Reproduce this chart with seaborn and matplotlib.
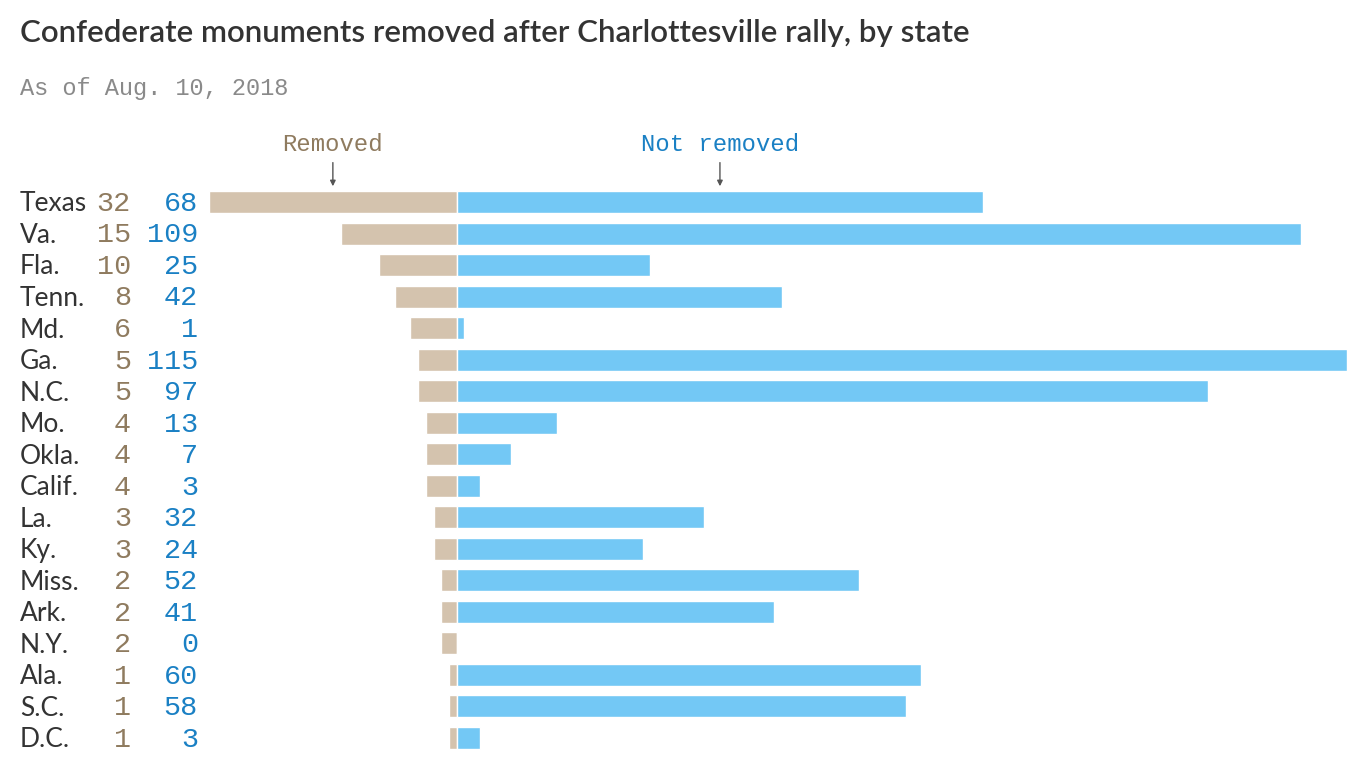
import matplotlib
matplotlib.use("Agg")
import matplotlib.pyplot as plt
import matplotlib.transforms as mtransforms
import pandas as pd
import seaborn as sns

# datos
estados = ["Texas", "Va.", "Fla.", "Tenn.", "Md.", "Ga.", "N.C.", "Mo.", "Okla.",
           "Calif.", "La.", "Ky.", "Miss.", "Ark.", "N.Y.", "Ala.", "S.C.", "D.C."]
removidos = [32, 15, 10, 8, 6, 5, 5, 4, 4, 4, 3, 3, 2, 2, 2, 1, 1, 1]
no_removidos = [68, 109, 25, 42, 1, 115, 97, 13, 7, 3, 32, 24, 52, 41, 0, 60, 58, 3]

titulo = "Confederate monuments removed after Charlottesville rally, by state"
subtitulo = "As of Aug. 10, 2018"

col_rem_bar = "#d4c3ae"
col_no_bar = "#73c8f5"
col_rem_txt = "#8f7b5f"
col_no_txt = "#1a80c4"
col_txt = "#333333"
mono = "Liberation Mono"

df = pd.DataFrame({"estado": estados, "removidos": removidos, "no_removidos": no_removidos})
df["rem_neg"] = -df["removidos"]

sns.set_style("white")
plt.rcParams["font.family"] = ["Lato", "DejaVu Sans"]

fig = plt.figure(figsize=(13.66, 7.68), dpi=100)
W, H = 1366, 768
ax = fig.add_axes([209 / W, 1 - 753.75 / H, (1347 - 209) / W, (753.75 - 186.25) / H])

sns.barplot(data=df, x="rem_neg", y="estado", color=col_rem_bar, width=0.7,
            orient="h", ax=ax, edgecolor="white", linewidth=1, saturation=1)
sns.barplot(data=df, x="no_removidos", y="estado", color=col_no_bar, width=0.7,
            orient="h", ax=ax, edgecolor="white", linewidth=1, saturation=1)

ax.set_xlim(-32, 115)
ax.set_ylim(len(estados) - 0.5, -0.5)
ax.axis("off")

trans = mtransforms.blended_transform_factory(fig.transFigure, ax.transData)
for i, row in df.iterrows():
    ax.text(20 / W, i + 0.06, row["estado"], transform=trans, ha="left", va="center",
            fontsize=19, color=col_txt)
    ax.text(131 / W, i + 0.06, str(row["removidos"]), transform=trans, ha="right",
            va="center", fontsize=20.5, color=col_rem_txt, family=mono)
    ax.text(198 / W, i + 0.06, str(row["no_removidos"]), transform=trans, ha="right",
            va="center", fontsize=20.5, color=col_no_txt, family=mono)

# etiquetas con flechas
for x, etiqueta, col in [(-removidos[0] / 2, "Removed", col_rem_txt),
                         (no_removidos[0] / 2, "Not removed", col_no_txt)]:
    ax.annotate("", xy=(x, -0.5), xytext=(x, -1.25), annotation_clip=False,
                arrowprops=dict(arrowstyle="-|>", color="#555555", lw=1,
                                mutation_scale=8, shrinkA=0, shrinkB=0))
    ax.text(x, -1.82, etiqueta, ha="center", va="center", fontsize=17.2,
            color=col, family=mono, clip_on=False)

fig.text(20 / W, 1 - 33 / H, titulo, ha="left", va="center", fontsize=22.5,
         color=col_txt, fontweight="semibold")
fig.text(20 / W, 1 - 88 / H, subtitulo, ha="left", va="center", fontsize=17,
         color="#8a8a8a", family=mono)

fig.savefig("out.png", dpi=100)
